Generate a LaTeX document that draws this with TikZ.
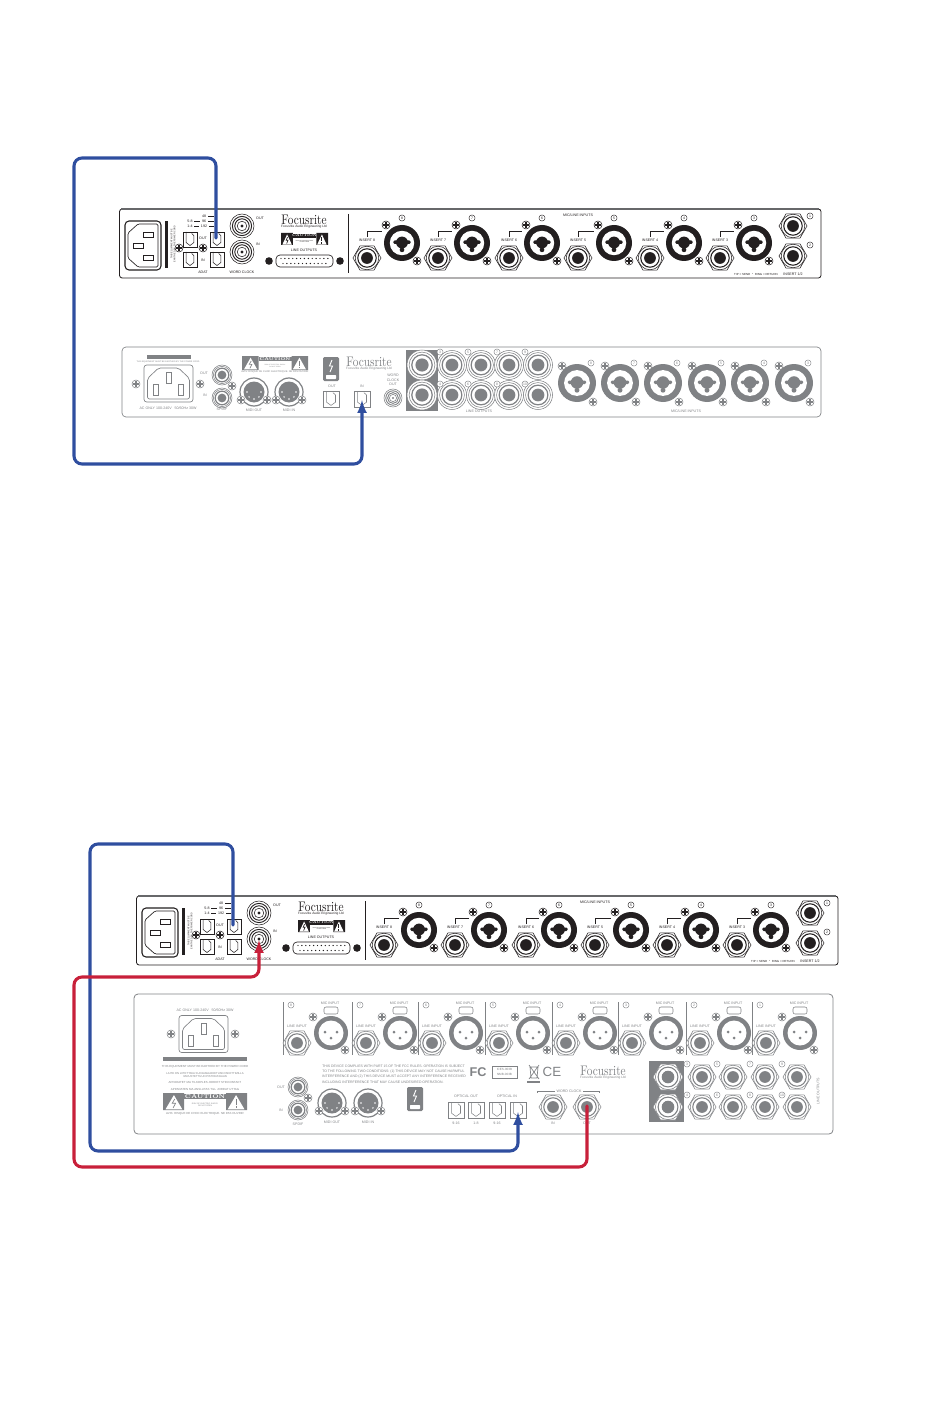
\documentclass[tikz,border=0pt]{standalone}
\usepackage{fontspec}
\setsansfont{Liberation Sans}
\usetikzlibrary{arrows,positioning,calc}
\definecolor{cableblue}{HTML}{2F4E9F}
\definecolor{cablered}{HTML}{C8203A}
\definecolor{greyink}{HTML}{808285}
\definecolor{darkink}{HTML}{231F20}
\tikzset{
  lab/.style={font=\sffamily\fontsize{2.7}{3.3}\selectfont,inner sep=0,text=darkink,align=center},
  labgrey/.style={lab,text=greyink},
  fs/.style={font=\sffamily\fontsize{#1}{4}\selectfont},
  logo/.style={font=\fontsize{10.4}{11}\selectfont,inner sep=0,text=#1},
  numtag/.style={font=\sffamily\fontsize{2.6}{3}\selectfont,draw=#1,text=#1,fill=white,circle,line width=0.3pt,inner sep=0,minimum size=4.6pt},
  cable/.style={line width=2.3pt,rounded corners=6pt,line cap=round,color=#1},
}
\newcommand{\Brand}{\scalebox{0.82}[1]{Focusrite}}
\newcommand{\Screw}[2]% pos, colour
{\begin{scope}[shift={(#1)}]
    \draw[#2,fill=white,line width=0.4pt] (0,0) circle (4);
    \draw[#2,line width=0.9pt] (-2.7,0) -- (2.7,0) (0,-2.7) -- (0,2.7);
  \end{scope}}
\newcommand{\Jack}[3]% pos, radius, colour
{\begin{scope}[shift={(#1)}]
    \draw[#3,line width=0.4pt,fill=white] (0:#2) -- (60:#2) -- (120:#2) -- (180:#2) -- (240:#2) -- (300:#2) -- cycle;
    \draw[#3,line width=0.4pt] (0,0) circle (0.84*#2);
    \draw[#3,line width=0.8pt] (0,0) circle (0.66*#2);
    \fill[#3] (0,0) circle (0.42*#2);
  \end{scope}}
\newcommand{\Ringjack}[2]% pos, radius
{\begin{scope}[shift={(#1)}]
    \draw[greyink,line width=0.4pt,fill=white] (0,0) circle (#2);
    \draw[greyink,line width=0.4pt] (0,0) circle (0.86*#2);
    \draw[greyink,line width=0.9pt] (0,0) circle (0.68*#2);
    \fill[greyink] (0,0) circle (0.44*#2);
  \end{scope}}
\newcommand{\Combo}[3]% pos, radius, colour
{\begin{scope}[shift={(#1)}]
    \fill[#3] (0,0) circle (#2);
    \fill[white] (0,0) circle (0.68*#2);
    \fill[#3] (0,-0.5) circle (0.33*#2);
    \fill[#3,rounded corners=1pt] (-0.48*#2,-2.5) rectangle (0.48*#2,1);
    \fill[#3] (0,0.38*#2) circle (0.13*#2);
  \end{scope}}
\newcommand{\Xlr}[1]% pos
{\begin{scope}[shift={(#1)}]
    \fill[greyink] (0,0) circle (17);
    \fill[white] (0,0) circle (12.5);
    \fill[greyink] (-6,-1) circle (1.5) (6,-1) circle (1.5) (0,5) circle (1.5);
    \draw[greyink,line width=0.4pt,rounded corners=1.5pt,fill=white] (-7,-26) rectangle (7,-19);
  \end{scope}}
\newcommand{\Bnc}[3]% pos, radius, colour
{\begin{scope}[shift={(#1)}]
    \draw[#3,line width=0.4pt] (0,0) circle (#2);
    \draw[#3,line width=0.7pt] (0,0) circle (0.8*#2);
    \draw[#3,line width=0.7pt] (0,0) circle (0.6*#2);
    \draw[#3,line width=0.4pt] (0,0) circle (0.4*#2);
    \fill[#3] (0,0) circle (0.13*#2);
  \end{scope}}
\newcommand{\Optical}[4]% pos, width, height, colour
{\begin{scope}[shift={(#1)},xscale=#2,yscale=#3]
    \draw[#4,line width=0.4pt] (0,0) rectangle (1,1);
    \draw[#4,line width=0.4pt] (0.22,0) -- (0.22,0.7) -- (0.5,0.9) -- (0.78,0.7) -- (0.78,0.25) -- (0.62,0.1);
  \end{scope}}
\newcommand{\Caution}[6]% pos, width, height, colour, head size, text size
{\begin{scope}[shift={(#1)},xscale=#2,yscale=#3]
    \fill[#4] (0,0) rectangle (0.25,1) (0.75,0) rectangle (1,1);
    \fill[#4] (0.25,0.05) rectangle (0.75,0.38);
    \fill[white] (0.13,0.12) -- (0.23,0.96) -- (0.03,0.96) -- cycle;
    \fill[white] (0.87,0.12) -- (0.97,0.96) -- (0.77,0.96) -- cycle;
    \draw[#4,line width=0.5pt] (0.14,0.35) -- (0.11,0.6) -- (0.15,0.6) -- (0.12,0.88);
    \draw[#4,line width=0.7pt] (0.87,0.35) -- (0.87,0.68) (0.87,0.76) -- (0.87,0.88);
    \node[inner sep=0,text=white,font=\bfseries\fontsize{#5}{#5}\selectfont] (cautionhead) at (0.5,0.22) {CAUTION};
    \node[inner sep=0,text=#4,align=center,font=\sffamily\fontsize{#6}{#6}\selectfont] (cautiontext) at (0.5,0.7) {RISK OF ELECTRIC SHOCK\\DO NOT OPEN};
  \end{scope}}
\newcommand{\Inlet}[1]% pos
{\begin{scope}[shift={(#1)}]
    \draw[greyink,line width=0.5pt,rounded corners=2pt] (-24.5,-18.5) rectangle (24.5,18.5);
    \draw[greyink,line width=0.5pt,rounded corners=1.5pt] (-10,-15.5) -- (10,-15.5) -- (21,-5) -- (21,15.5) -- (-21,15.5) -- (-21,-5) -- cycle;
    \draw[greyink,line width=0.5pt] (-2.5,-11) rectangle (2.5,0) (-15,1) rectangle (-10,12) (10,1) rectangle (15,12);
  \end{scope}}
\newcommand{\Bolt}[1]% pos
{\begin{scope}[shift={(#1)}]
    \fill[greyink,rounded corners=1pt] (0,0) rectangle (16,24);
    \draw[white,line width=0.7pt] (9,3) -- (6.5,9) -- (9.5,9) -- (7,15);
    \fill[white,rounded corners=0.5pt] (3,18) rectangle (13,22);
  \end{scope}}
\newcommand{\Midi}[2]% pos, colour of name
{\begin{scope}[shift={(#1)}]
    \draw[greyink,line width=0.9pt] (0,0) circle (14);
    \fill[greyink] (0,0) circle (10.5);
    \foreach \ang in {0,45,90,135,180}
      \fill[white] (\ang:7) circle (0.8);
  \end{scope}
  \Screw{$(#1)+(-13,8)$}{#2}
  \Screw{$(#1)+(13,8)$}{#2}}
% the 1U unit with black artwork, used twice
\newcommand{\Blackrack}[2]% shift, prefix
{\begin{scope}[shift={(#1)},name prefix=#2-]
    \draw[darkink,line width=0.6pt,rounded corners=2pt,fill=white] (119.5,209) rectangle (821,278);
    \draw[greyink!80!black,line width=1.5pt] (121,209) -- (819,209);
    % mains
    \draw[darkink,line width=0.8pt,rounded corners=3pt] (125,221) rectangle (161,270);
    \draw[darkink,line width=0.5pt,rounded corners=1pt] (128,233) -- (138,224) -- (158,224) -- (158,267) -- (138,267) -- (128,258) -- cycle;
    \draw[darkink,line width=0.5pt] (143,232) rectangle (153,237) (133,243) rectangle (143,248) (143,255) rectangle (153,260);
    \fill[darkink] (165,221) rectangle (168,268);
    \node[lab,rotate=90,font=\sffamily\fontsize{1.7}{2.3}\selectfont] (warn) at (173,244) {THIS EQUIPMENT MUST BE\\EARTHED BY THE POWER CORD};
    % adat
    \Screw{179,248}{darkink}
    \Screw{203,248}{darkink}
    \Optical{183,232}{14}{15}{darkink}
    \Optical{183,252}{14}{15}{darkink}
    \Optical{210,232}{14}{15}{darkink}
    \Optical{210,252}{14}{15}{darkink}
    \node[lab] (adatfs) at (204,216) {48};
    \node[lab] (adatmid) at (204,221) {96};
    \node[lab] (adathi) at (204,226) {192};
    \node[lab] (adatpairb) at (190,221) {5-8};
    \node[lab] (adatpaira) at (190,226) {1-4};
    \draw[darkink,line width=0.25pt] (194,221) -- (200,221) (194,226) -- (199,226) (208,216) -- (214,216) (208,221) -- (214,221) (209,226) -- (214,226);
    \node[lab] (adatoutlab) at (203,238) {OUT};
    \node[lab] (adatinlab) at (203,260) {IN};
    \node[lab] (adatname) at (203,272) {ADAT};
    \coordinate (adatout) at (216,238);
    % word clock
    \Bnc{242,226}{12}{darkink}
    \Bnc{242,252}{12}{darkink}
    \coordinate (wcin) at (242,253);
    \node[lab] (wcoutlab) at (260,218) {OUT};
    \node[lab] (wcinlab) at (258,244) {IN};
    \node[lab] (wcname) at (242,272) {WORD CLOCK};
    % name plate
    \node[logo=darkink] (brand) at (304,220) {\Brand};
    \node[lab,fs=2.4] (brandsub) at (304,227) {Focusrite Audio Engineering Ltd};
    \Caution{281,233}{47}{12}{darkink}{2.6}{1}
    \node[lab] (outs) at (304,250) {LINE OUTPUTS};
    % line output connector
    \fill[darkink] (269,261) circle (3.8) (340,261) circle (3.8);
    \draw[darkink,line width=0.5pt,rounded corners=3pt] (276,255) rectangle (333,267);
    \foreach \dx in {0,...,12} \fill[darkink] (281+\dx*3.9,258.5) circle (0.7);
    \foreach \dx in {0,...,11} \fill[darkink] (283+\dx*3.9,263.5) circle (0.7);
    \draw[darkink,line width=0.4pt] (348,214) -- (348,273);
    % inputs
    \foreach \cx/\jx/\num in {402/367/8,472/438/7,542/509/6,614/578/5,684/650/4,754/720/3}{
      \Combo{\cx,243}{18}{darkink}
      \Screw{\cx-16,225}{darkink}
      \Screw{\cx+15,261}{darkink}
      \Jack{\jx,258}{14}{darkink}
      \draw[darkink,line width=0.4pt] (\jx,237) -- (\jx,231) -- (\cx-20,231);
      \node[lab,fill=white,inner sep=0.3pt] (ins\num) at (\jx,240) {INSERT \num};
      \node[numtag=darkink] (tag\num) at (\cx,218) {\num};
    }
    \node[lab] (inputs) at (578,215) {MIC/LINE INPUTS};
    \Jack{793,226}{14}{darkink}
    \Jack{793,256}{14}{darkink}
    \node[numtag=darkink] (tag1) at (810,216) {1};
    \node[numtag=darkink] (tag2) at (810,245) {2};
    \node[lab,fs=2.2] (tiprule) at (756,273.5) {TIP = SEND $\cdot$ RING = RETURN};
    \node[lab] (ins12) at (793,274) {INSERT 1/2};
  \end{scope}}
\begin{document}
\begin{tikzpicture}[x=0.75pt,y=-0.75pt]
  \useasboundingbox (0,0) rectangle (950,1419);
  \Blackrack{0,0}{A}
  \Blackrack{17,687}{C}
  % second unit, top
  \begin{scope}[name prefix=B-]
    \draw[greyink,line width=0.5pt,rounded corners=3pt] (122,347) rectangle (821,417);
    \fill[greyink] (147,355) rectangle (191,359);
    \node[labgrey,fs=1.6] (earth) at (168,362) {THIS EQUIPMENT MUST BE EARTHED BY THE POWER CORD};
    \Inlet{168.5,383.5}
    \Screw{136,384}{greyink}
    \Screw{200,384}{greyink}
    \node[labgrey] (mains) at (168,408) {AC ONLY 100-240V ~ 50/60Hz 30W};
    \Ringjack{222,375}{10}
    \Ringjack{222,398}{10}
    \Screw{232,386}{greyink}
    \node[labgrey] (spdout) at (204,373) {OUT};
    \node[labgrey] (spdin) at (205,395) {IN};
    \node[labgrey] (spd) at (222,409) {SPDIF};
    \Caution{242,356}{66}{14}{greyink}{3.2}{1.2}
    \node[labgrey,fs=1.9] (avis) at (275,372) {AVIS: RISQUE DE CHOC ELECTRIQUE. NE PAS OUVRIR};
    \Midi{254,392}{greyink}
    \Midi{289,392}{greyink}
    \node[labgrey] (midout) at (254,410) {MIDI OUT};
    \node[labgrey] (midin) at (289,410) {MIDI IN};
    \Bolt{323,357}
    \node[labgrey] (optoutlab) at (332,386) {OUT};
    \node[labgrey] (optinlab) at (362,386) {IN};
    \Optical{323,391}{16}{16}{greyink}
    \Optical{354,391}{16}{16}{greyink}
    \coordinate (optin) at (362,400);
    \node[logo=greyink] (brand) at (369,362) {\Brand};
    \node[labgrey,fs=2.4] (brandsub) at (369,369) {Focusrite Audio Engineering Ltd};
    \node[labgrey] (wc) at (393,380) {WORD\\CLOCK\\OUT};
    \Bnc{393,398}{9}{greyink}
    % line outputs
    \fill[greyink] (406,350) rectangle (438,411);
    \foreach \jy in {365,395}{
      \Ringjack{422,\jy}{15}
      \foreach \jx in {452,481,509,538}{\Ringjack{\jx,\jy}{14.5}}
    }
    \foreach \tx/\top/\low in {440/3/4,468/5/6,497/7/8,525/9/10}{
      \node[numtag=greyink] (tag\top) at (\tx,352) {\top};
      \node[numtag=greyink] (tag\low) at (\tx,384) {\low};
    }
    \node[labgrey] (outs) at (479,411) {LINE OUTPUTS};
    % inputs
    \foreach \cx/\num in {577/8,620/7,663/6,707/5,750/4,794/3}{
      \Combo{\cx,383}{19}{greyink}
      \Screw{\cx-15,366}{greyink}
      \Screw{\cx+16,402}{greyink}
      \node[numtag=greyink] (mic\num) at (\cx+14,363) {\num};
    }
    \node[labgrey] (inputs) at (686,411) {MIC/LINE INPUTS};
  \end{scope}
  % second unit, bottom
  \begin{scope}[name prefix=D-]
    \draw[greyink,line width=0.6pt,rounded corners=3pt] (134,994) rectangle (833,1134);
    \node[labgrey] (mains) at (205,1010) {AC ONLY 100-240V ~ 50/60Hz 30W};
    \Inlet{203.5,1034}
    \Screw{171,1034}{greyink}
    \Screw{235,1034}{greyink}
    \fill[greyink] (163,1057) rectangle (247,1061);
    \node[labgrey,fs=2.2] (earth) at (205,1067) {THIS EQUIPMENT MUST BE EARTHED BY THE POWER CORD};
    \node[labgrey,font=\sffamily\fontsize{2.1}{2.7}\selectfont] (laite) at (205,1075) {LAITE ON LIITETTAVA SUOJAMAADOITUSKOSKETTIMILLA\\VARUSTETTUUN PISTORASIAAN};
    \node[labgrey,fs=2.2] (apparatet) at (205,1082) {APPARATET MA TILKOPLES JORDET STIKKONTAKT};
    \node[labgrey,fs=2.2] (apparaten) at (205,1089) {APPARATEN MA ANSLUTAS TILL JORDAT UTTAG};
    \Caution{163,1093}{84}{17}{greyink}{4.2}{1.5}
    \node[labgrey,fs=2.2] (avis) at (205,1114) {AVIS: RISQUE DE CHOC ELECTRIQUE. NE PAS OUVRIR};
    % inputs
    \foreach \lx/\num in {283/8,352/7,418/6,485/5,552/4,618/3,686/2,752/1}{
      \draw[greyink,line width=0.4pt] (\lx,1002) -- (\lx,1055);
      \node[numtag=greyink] (tag\num) at (\lx+8,1005) {\num};
      \Jack{\lx+14,1043}{14}{greyink}
      \Xlr{\lx+48,1033}
      \Screw{\lx+30,1017}{greyink}
      \Screw{\lx+62,1050}{greyink}
      \node[labgrey] (line\num) at (\lx+14,1026) {LINE INPUT};
      \node[labgrey] (mic\num) at (\lx+47,1003) {MIC INPUT};
    }
    % spdif and midi
    \Ringjack{298,1087}{10}
    \Ringjack{298,1110}{10}
    \Screw{308,1098}{greyink}
    \node[labgrey] (spdout) at (281,1087) {OUT};
    \node[labgrey] (spdin) at (281,1110) {IN};
    \node[labgrey] (spd) at (298,1124) {SPDIF};
    \Midi{332,1103}{greyink}
    \Midi{368,1103}{greyink}
    \node[labgrey] (midout) at (332,1122) {MIDI OUT};
    \node[labgrey] (midin) at (368,1122) {MIDI IN};
    \Bolt{407,1087}
    \node[labgrey,anchor=west,align=left,font=\sffamily\fontsize{2.6}{4}\selectfont] (fcc) at (322,1074) {THIS DEVICE COMPLIES WITH PART 15 OF THE FCC RULES. OPERATION IS SUBJECT\\TO THE FOLLOWING TWO CONDITIONS: (1) THIS DEVICE MAY NOT CAUSE HARMFUL\\INTERFERENCE AND (2) THIS DEVICE MUST ACCEPT ANY INTERFERENCE RECEIVED\\INCLUDING INTERFERENCE THAT MAY CAUSE UNDESIRED OPERATION.};
    % marks
    \node[text=greyink,font=\sffamily\bfseries\fontsize{9.5}{10}\selectfont,inner sep=0] (fcmark) at (478,1072) {FC};
    \draw[greyink,line width=0.4pt] (492,1066) rectangle (517,1078);
    \node[labgrey,fs=2.3] (ices) at (504.5,1072) {ICES-003B\\NMB-003B};
    \draw[greyink,line width=0.5pt] (530,1067) -- (538,1067) -- (537,1078) -- (531,1078) -- cycle (529,1065) -- (539,1079) (539,1065) -- (529,1079);
    \fill[greyink] (527,1081) rectangle (540,1083);
    \node[text=greyink,font=\sffamily\fontsize{10}{10}\selectfont,inner sep=0] (cemark) at (552,1072) {CE};
    \node[logo=greyink] (brand) at (603,1071) {\Brand};
    \node[labgrey,fs=2.4] (brandsub) at (603,1077.5) {Focusrite Audio Engineering Ltd};
    % optical
    \node[labgrey] (optoutlab) at (466,1096) {OPTICAL OUT};
    \node[labgrey] (optinlab) at (507,1096) {OPTICAL IN};
    \foreach \ox/\pair in {448/9-16,468/1-8,489/9-16,510/1-8}{
      \Optical{\ox,1102}{16}{16}{greyink}
      \node[labgrey] (opt\ox) at (\ox+8,1123) {\pair};
    }
    \coordinate (optin) at (518,1112);
    % word clock
    \draw[greyink,line width=0.4pt] (537,1093) -- (537,1091) -- (555,1091) (583,1091) -- (599,1091) -- (599,1093);
    \node[labgrey] (wc) at (569,1091) {WORD CLOCK};
    \Jack{553,1107}{14}{greyink}
    \Jack{587,1107}{14}{greyink}
    \coordinate (wcout) at (587,1106);
    \node[labgrey] (wcinlab) at (553,1123) {IN};
    \node[labgrey] (wcoutlab) at (587,1123) {OUT};
    % line outputs
    \fill[greyink] (649,1061) rectangle (684,1122);
    \foreach \jy in {1077,1107}{
      \Jack{668,\jy}{15}{greyink}
      \foreach \jx in {702,733,765,797}{\Jack{\jx,\jy}{14}{greyink}}
    }
    \foreach \tx/\top/\low in {687/3/4,717/5/6,750/7/8,782/9/10}{
      \node[numtag=greyink] (otag\top) at (\tx,1064) {\top};
      \node[numtag=greyink] (otag\low) at (\tx,1095) {\low};
    }
    \node[labgrey,rotate=90] (outs) at (818,1091) {LINE OUTPUTS};
  \end{scope}
  % cables
  \coordinate (topA) at (74,158);
  \coordinate (lowA) at (362,464);
  \coordinate (topC) at (90,844);
  \coordinate (lowC) at (518,1151);
  \coordinate (redA) at (74,1167);
  \coordinate (redB) at (259,977);
  \draw[cable=cableblue,-latex] (A-adatout) |- (topA) |- (lowA) -- (B-optin);
  \draw[cable=cableblue,-latex] (C-adatout) |- (topC) |- (lowC) -- (D-optin);
  \draw[cable=cablered,-latex] (D-wcout) |- (redA) |- (redB) -- (C-wcin);
\end{tikzpicture}
\end{document}
